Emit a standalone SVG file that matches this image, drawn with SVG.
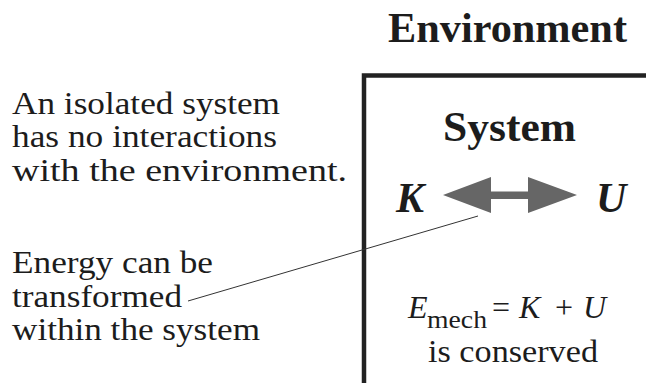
<svg xmlns="http://www.w3.org/2000/svg" width="646" height="383" viewBox="0 0 646 383" font-family="Liberation Serif, serif">
<style>
  text { fill: #1c1c1c; }
  .body { font-size: 32px; }
  .head { font-size: 42px; font-weight: bold; }
  .var { font-size: 42px; font-weight: bold; font-style: italic; }
  .it { font-style: italic; }
</style>
<rect width="646" height="383" fill="#ffffff"/>

<g id="environment" font-family="Liberation Serif, serif">
  <text class="head" x="388" y="42" textLength="239" lengthAdjust="spacingAndGlyphs">Environment</text>
</g>

<g id="system" font-family="Liberation Serif, serif">
  <path d="M364 383 V75.5 H646" fill="none" stroke="#222222" stroke-width="4.5"/>
  <text class="head" x="443" y="141" textLength="133" lengthAdjust="spacingAndGlyphs">System</text>
  <text class="var" x="396" y="212">K</text>
  <text class="var" x="596" y="212">U</text>
  <polygon points="443,195 491,177 491,191.5 528,191.5 528,177 577,195 528,213 528,199 491,199 491,213" fill="#666666"/>
  <text class="body it" x="408" y="318">E</text>
  <text x="427" y="328" font-size="26" textLength="60" lengthAdjust="spacingAndGlyphs">mech</text>
  <text class="body" x="492" y="318">=</text>
  <text class="body it" x="519" y="318">K</text>
  <text class="body" x="555" y="318">+</text>
  <text class="body it" x="583" y="318">U</text>
  <text class="body" x="428" y="362" textLength="170" lengthAdjust="spacingAndGlyphs">is conserved</text>
</g>

<g id="isolated-note" font-family="Liberation Serif, serif">
  <text class="body" x="12" y="114" textLength="268" lengthAdjust="spacingAndGlyphs">An isolated system</text>
  <text class="body" x="12" y="147" textLength="265" lengthAdjust="spacingAndGlyphs">has no interactions</text>
  <text class="body" x="12" y="181" textLength="335" lengthAdjust="spacingAndGlyphs">with the environment.</text>
</g>

<g id="energy-note" font-family="Liberation Serif, serif">
  <text class="body" x="12" y="273" textLength="201" lengthAdjust="spacingAndGlyphs">Energy can be</text>
  <text class="body" x="12" y="307" textLength="170" lengthAdjust="spacingAndGlyphs">transformed</text>
  <text class="body" x="12" y="340" textLength="248" lengthAdjust="spacingAndGlyphs">within the system</text>
</g>

<g id="connectors">
  <line x1="188" y1="301" x2="478" y2="216" stroke="#333333" stroke-width="1"/>
</g>
</svg>
